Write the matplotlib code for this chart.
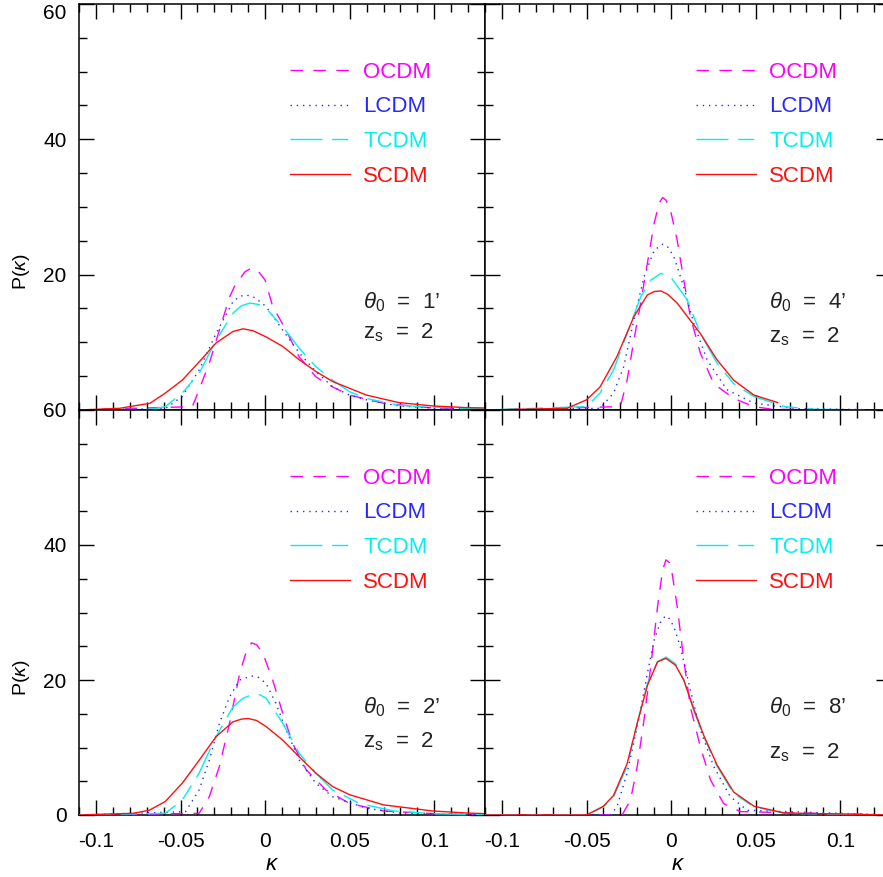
import matplotlib
matplotlib.use("Agg")
import matplotlib.pyplot as plt
from matplotlib.ticker import MultipleLocator

plt.rcParams['font.family'] = ['Liberation Sans', 'DejaVu Sans']
plt.rcParams['mathtext.fontset'] = 'custom'
plt.rcParams['mathtext.rm'] = 'Liberation Sans'
plt.rcParams['mathtext.it'] = 'Liberation Sans:italic'

# ---- data (kappa, P(kappa)) ----
# panel theta0 = 1'
k1_o = [-0.11, -0.043, -0.039, -0.033, -0.027, -0.021, -0.018, -0.012, -0.008, -0.004, 0.0, 0.0045, 0.0124, 0.020, 0.030, 0.040, 0.050, 0.070, 0.099, 0.13]
p1_o = [0.0, 0.5, 3.0, 6.9, 11.8, 16.7, 18.3, 20.4, 21.0, 20.5, 19.2, 15.3, 11.8, 7.9, 4.9, 3.4, 2.2, 1.0, 0.3, 0.1]
k1_l = [-0.11, -0.059, -0.049, -0.039, -0.029, -0.019, -0.015, -0.011, -0.006, 0.0006, 0.0104, 0.0203, 0.030, 0.040, 0.050, 0.060, 0.079, 0.099, 0.13]
p1_l = [0.0, 0.2, 2.0, 5.9, 11.3, 16.0, 16.8, 17.0, 16.6, 15.3, 11.8, 8.4, 5.7, 3.4, 2.2, 1.5, 0.6, 0.3, 0.1]
k1_t = [-0.11, -0.068, -0.059, -0.049, -0.039, -0.029, -0.019, -0.014, -0.009, -0.004, 0.0006, 0.0104, 0.0203, 0.030, 0.040, 0.050, 0.060, 0.079, 0.099, 0.13]
p1_t = [0.0, 0.1, 0.5, 2.5, 5.4, 10.3, 14.3, 15.4, 15.8, 15.6, 15.0, 12.3, 9.1, 6.4, 4.4, 2.7, 1.7, 0.7, 0.4, 0.15]
k1_s = [-0.11, -0.086, -0.068, -0.059, -0.049, -0.039, -0.029, -0.019, -0.013, -0.007, 0.0006, 0.0104, 0.0203, 0.030, 0.040, 0.060, 0.079, 0.099, 0.119, 0.13]
p1_s = [0.0, 0.25, 1.0, 2.5, 4.4, 7.1, 9.9, 11.6, 12.0, 11.7, 10.8, 9.4, 7.4, 5.7, 4.2, 2.2, 1.1, 0.6, 0.35, 0.3]

# panel theta0 = 4'
k4_o = [-0.11, -0.030, -0.026, -0.022, -0.018, -0.014, -0.010, -0.007, -0.005, -0.003, -0.0004, 0.0036, 0.0075, 0.0114, 0.0173, 0.0252, 0.037, 0.049, 0.060, 0.13]
p4_o = [0.0, 0.5, 4.4, 10.3, 15.8, 21.7, 27.6, 30.6, 31.4, 31.0, 29.6, 25.1, 19.2, 13.8, 8.4, 3.9, 1.7, 0.5, 0.1, 0.0]
k4_l = [-0.11, -0.042, -0.034, -0.028, -0.022, -0.016, -0.010, -0.005, -0.002, 0.0016, 0.0075, 0.0134, 0.0213, 0.033, 0.049, 0.075, 0.13]
p4_l = [0.0, 0.25, 2.5, 6.4, 13.3, 19.7, 23.6, 24.5, 24.1, 22.7, 18.2, 12.8, 7.4, 3.0, 1.0, 0.2, 0.0]
k4_t = [-0.11, -0.050, -0.042, -0.034, -0.026, -0.018, -0.012, -0.006, -0.0004, 0.0095, 0.0173, 0.0272, 0.037, 0.049, 0.067, 0.085, 0.13]
p4_t = [0.0, 0.5, 2.5, 5.9, 11.3, 16.7, 19.2, 20.2, 19.7, 16.3, 11.3, 6.9, 3.9, 2.0, 0.5, 0.1, 0.0]
k4_s = [-0.11, -0.0615, -0.050, -0.042, -0.032, -0.022, -0.014, -0.010, -0.006, -0.002, 0.0036, 0.0173, 0.0272, 0.037, 0.049, 0.063]
p4_s = [0.0, 0.25, 1.5, 3.4, 7.9, 13.8, 17.0, 17.5, 17.6, 17.1, 15.8, 11.3, 7.4, 4.4, 2.2, 1.1]

# panel theta0 = 2'
k2_o = [-0.11, -0.039, -0.033, -0.027, -0.021, -0.015, -0.011, -0.008, -0.005, -0.0014, 0.0045, 0.0104, 0.0163, 0.0243, 0.036, 0.050, 0.070, 0.099, 0.13]
p2_o = [0.0, 0.25, 2.7, 7.2, 13.6, 21.0, 24.3, 25.5, 25.2, 24.0, 20.0, 15.1, 10.6, 6.7, 3.7, 1.7, 0.6, 0.2, 0.05]
k2_l = [-0.11, -0.047, -0.039, -0.033, -0.027, -0.021, -0.015, -0.008, -0.004, 0.0006, 0.0065, 0.0124, 0.0203, 0.030, 0.040, 0.060, 0.079, 0.13]
p2_l = [0.0, 0.5, 3.7, 8.1, 13.6, 17.5, 20.0, 20.6, 20.4, 19.5, 16.5, 12.6, 8.1, 4.7, 2.7, 1.0, 0.3, 0.05]
k2_t = [-0.11, -0.059, -0.049, -0.039, -0.029, -0.019, -0.013, -0.007, -0.003, 0.0006, 0.0104, 0.0203, 0.030, 0.040, 0.056, 0.076, 0.099, 0.13]
p2_t = [0.0, 0.25, 2.2, 6.2, 11.6, 16.0, 17.3, 17.9, 17.8, 17.3, 13.6, 9.1, 6.2, 3.7, 1.7, 0.6, 0.2, 0.05]
k2_s = [-0.11, -0.078, -0.0685, -0.059, -0.049, -0.039, -0.029, -0.019, -0.014, -0.010, -0.005, 0.0006, 0.0104, 0.0203, 0.030, 0.040, 0.050, 0.070, 0.099, 0.119, 0.13]
p2_s = [0.0, 0.25, 0.7, 2.0, 4.7, 8.1, 11.6, 13.8, 14.2, 14.3, 14.0, 13.1, 11.1, 8.6, 6.2, 4.2, 3.0, 1.5, 0.6, 0.3, 0.2]

# panel theta0 = 8'
k8_o = [-0.11, -0.029, -0.024, -0.020, -0.016, -0.012, -0.008, -0.005, -0.003, -0.001, 0.0006, 0.0036, 0.0075, 0.0114, 0.0173, 0.0233, 0.031, 0.041, 0.13]
p8_o = [0.0, 0.0, 2.2, 7.2, 14.1, 22.0, 30.9, 36.3, 37.8, 37.4, 35.8, 30.9, 23.0, 16.0, 10.1, 5.2, 1.7, 0.5, 0.0]
k8_l = [-0.11, -0.036, -0.032, -0.026, -0.020, -0.014, -0.010, -0.0064, -0.0034, -0.001, 0.0016, 0.0055, 0.0114, 0.0173, 0.0252, 0.035, 0.045, 0.13]
p8_l = [0.0, 0.0, 1.2, 6.2, 13.1, 21.0, 25.9, 28.5, 29.5, 29.1, 27.9, 24.9, 18.5, 12.6, 7.2, 2.7, 0.7, 0.0]
k8_t = [-0.11, -0.050, -0.040, -0.034, -0.026, -0.020, -0.014, -0.008, -0.003, 0.0026, 0.0075, 0.0134, 0.0193, 0.0272, 0.037, 0.049, 0.067, 0.13]
p8_t = [0.0, 0.0, 1.2, 2.7, 7.2, 13.6, 19.5, 22.7, 23.4, 22.4, 20.0, 15.5, 11.6, 7.2, 3.2, 1.2, 0.25, 0.0]
k8_s = [-0.11, -0.050, -0.040, -0.034, -0.026, -0.020, -0.014, -0.008, -0.003, 0.0026, 0.0075, 0.0134, 0.0193, 0.0272, 0.037, 0.049, 0.067, 0.13]
p8_s = [0.0, 0.0, 1.3, 2.9, 7.6, 13.6, 19.2, 22.7, 23.2, 22.2, 20.0, 15.7, 11.8, 7.4, 3.4, 1.3, 0.3, 0.0]

models = ['OCDM', 'LCDM', 'TCDM', 'SCDM']
colors = {'OCDM': '#ff00ff', 'LCDM': '#2828ff', 'TCDM': '#00f0f0', 'SCDM': '#ff1010'}
styles = {'OCDM': (0, (9, 7.5)), 'LCDM': (0, (1, 3.5)),
          'TCDM': (0, (23, 7, 11.5, 7)), 'SCDM': '-'}

panels = [
    ("1", [(k1_o, p1_o), (k1_l, p1_l), (k1_t, p1_t), (k1_s, p1_s)]),
    ("4", [(k4_o, p4_o), (k4_l, p4_l), (k4_t, p4_t), (k4_s, p4_s)]),
    ("2", [(k2_o, p2_o), (k2_l, p2_l), (k2_t, p2_t), (k2_s, p2_s)]),
    ("8", [(k8_o, p8_o), (k8_l, p8_l), (k8_t, p8_t), (k8_s, p8_s)]),
]

W, H = 883, 877
fig = plt.figure(figsize=(W / 100, H / 100), dpi=100)

lefts = [79, 485, 79, 485]
tops = [4, 4, 410, 410]
heights = [406, 406, 405, 405]
zs_y = [0.19, 0.18, 0.18, 0.153]

for i, (theta, curves) in enumerate(panels):
    ax = fig.add_axes([lefts[i] / W, 1 - (tops[i] + heights[i]) / H, 406 / W, heights[i] / H])
    for m, (k, p) in zip(models, curves):
        ax.plot(k, p, color=colors[m], linestyle=styles[m], lw=1.0, label=m, zorder=3)

    ax.set_xlim(-0.11, 0.13)
    ax.set_ylim(0, 60)
    ax.xaxis.set_major_locator(MultipleLocator(0.05))
    ax.xaxis.set_minor_locator(MultipleLocator(0.01))
    ax.yaxis.set_major_locator(MultipleLocator(20))
    ax.yaxis.set_minor_locator(MultipleLocator(5))
    ax.tick_params(which='both', direction='in', top=True, right=True, width=1.0, color='black')
    ax.tick_params(which='major', length=11, labelsize=15)
    ax.tick_params(which='minor', length=6)
    ax.tick_params(axis='x', pad=12)
    ax.tick_params(axis='y', pad=9)
    for s in ax.spines.values():
        s.set_linewidth(1.1)

    top_row = i < 2
    left_col = i % 2 == 0
    if top_row:
        ax.set_xticklabels([])
    else:
        ax.set_xticks([-0.1, -0.05, 0, 0.05, 0.1])
        ax.set_xticklabels(['-0.1', '-0.05', '0', '0.05', '0.1'])
        ax.set_xlabel(r'$\kappa$', fontsize=16)
        ax.xaxis.set_label_coords(0.475, -0.097)
    if left_col:
        ax.set_yticks([0, 20, 40, 60])
        if top_row:
            labs = ax.set_yticklabels(['', '20', '40', '60'])
            labs[-1].set_va('top')
        else:
            ax.set_yticklabels(['0', '20', '40', '60'])
        ax.set_ylabel(r'P($\kappa$)', fontsize=14)
        ax.yaxis.set_label_coords(-0.115, 0.34)
    else:
        ax.set_yticklabels([])

    leg = ax.legend(loc='upper left', bbox_to_anchor=(0.52, 0.858), frameon=False,
                    fontsize=16, handlelength=2.7, handletextpad=0.6,
                    labelspacing=0.62, borderpad=0, borderaxespad=0)
    for txt, m in zip(leg.get_texts(), models):
        txt.set_color(colors[m])

    ax.text(0.70, 0.266, r'$\theta_{\mathrm{0}}$  =  ' + theta + '\u2019', transform=ax.transAxes,
            fontsize=16, color='#222222', va='center', ha='left')
    ax.text(0.70, zs_y[i], r'z$_{\mathrm{s}}$  =  2', transform=ax.transAxes,
            fontsize=16, color='#222222', va='center', ha='left')

fig.savefig('out.png', dpi=100)
